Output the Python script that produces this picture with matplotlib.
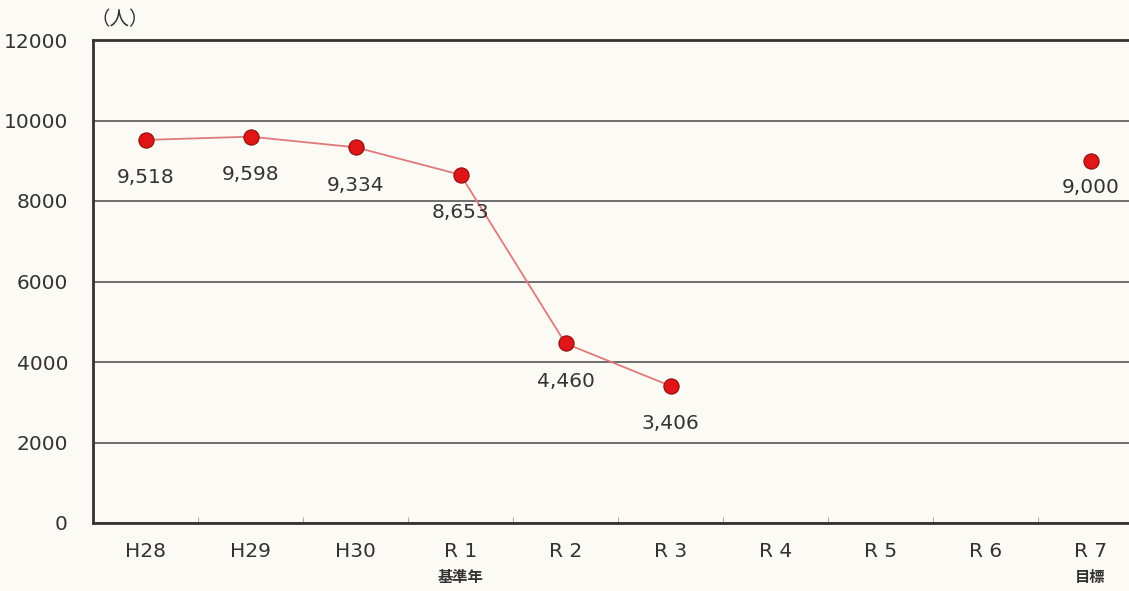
import matplotlib.pyplot as plt
import numpy as np

plt.rcParams['font.family'] = ['DejaVu Sans', 'Noto Sans CJK JP']

years = ['H28', 'H29', 'H30', 'R 1', 'R 2', 'R 3', 'R 4', 'R 5', 'R 6', 'R 7']
sub_labels = {3: '基準年', 9: '目標'}
# 実績 (H28〜R3) と 目標 (R7)
actual = [9518, 9598, 9334, 8653, 4460, 3406]
target_idx = 9
target = 9000

fig = plt.figure(figsize=(11.29, 5.91), dpi=100, facecolor='#fbfaf5')
# 右端は画像の外まで伸びている
ax = fig.add_axes([93 / 1129, 68 / 591, 1050 / 1129, 483 / 591])
ax.set_facecolor('#fbfaf5')

x = np.arange(len(actual))
ax.plot(x, actual, color='#e07a7a', linewidth=1.3, zorder=2)
ax.scatter(x, actual, s=120, color='#e01515', edgecolor='#8a1010', linewidth=0.8, zorder=3)
ax.scatter([target_idx], [target], s=120, color='#e01515', edgecolor='#8a1010', linewidth=0.8, zorder=3)

for i, v in enumerate(actual):
    ax.annotate(f'{v:,}', (i, v), xytext=(0, -38), textcoords='offset pixels',
                ha='center', va='center', fontsize=14.5, color='#333333')
ax.annotate(f'{target:,}', (target_idx, target), xytext=(0, -27), textcoords='offset pixels',
            ha='center', va='center', fontsize=14.5, color='#333333')

ax.set_xlim(-0.5, len(years) - 0.5)
ax.set_ylim(0, 12000)
ax.set_yticks(range(0, 12001, 2000))
ax.yaxis.grid(True, color='#555555', linewidth=1.2)
ax.set_axisbelow(True)

ax.set_xticks(range(len(years)))
ax.set_xticklabels(years)
ax.set_xticks(np.arange(0.5, len(years) - 0.5), minor=True)
ax.tick_params(axis='x', which='major', length=0, pad=14, labelsize=14.5, labelcolor='#333333')
ax.tick_params(axis='x', which='minor', direction='in', length=4, color='#999999')
ax.tick_params(axis='y', length=0, pad=18, labelsize=14.5, labelcolor='#333333')

for i, s in sub_labels.items():
    ax.text(i, -1350, s, ha='center', va='center', fontsize=11, fontweight='bold',
            family='Noto Sans CJK JP', color='#333333')

for side in ['left', 'bottom', 'top']:
    ax.spines[side].set_color('#333333')
    ax.spines[side].set_linewidth(2)
ax.spines['right'].set_visible(False)

fig.text(120 / 1129, 1 - 20 / 591, '（人）', ha='center', va='center', fontsize=14,
         family='Noto Sans CJK JP', color='#333333')

fig.savefig('out.png', dpi=100, facecolor=fig.get_facecolor())
